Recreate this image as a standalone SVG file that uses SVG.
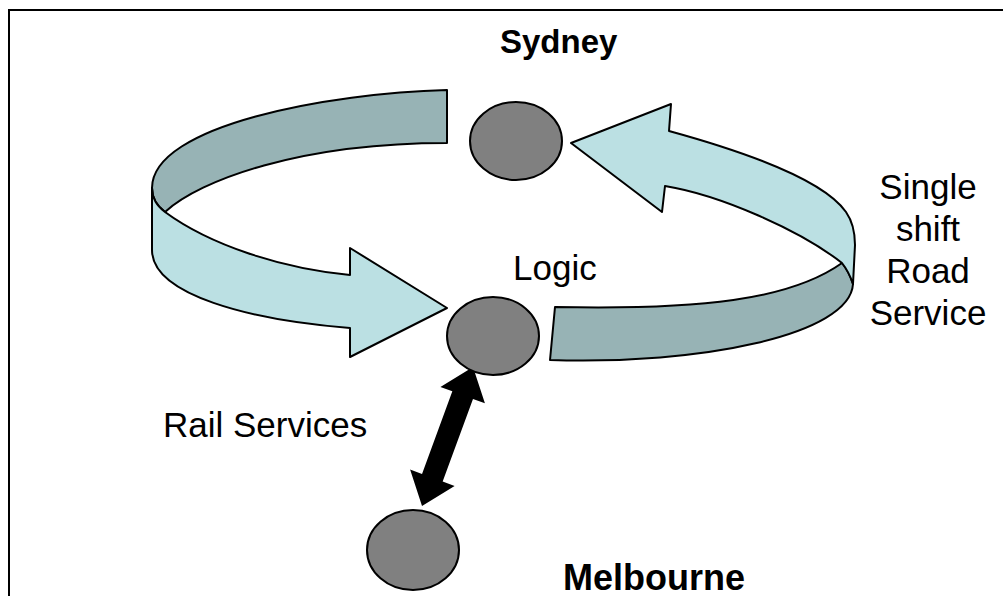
<svg xmlns="http://www.w3.org/2000/svg" width="1003" height="596" viewBox="0 0 1003 596">
<style>
.node{fill:#808080;stroke:#000;stroke-width:2}
.front{fill:#BBE0E3;stroke:#000;stroke-width:2;stroke-linejoin:round}
.back{fill:#97B3B5;stroke:#000;stroke-width:2;stroke-linejoin:round}
.t{font-family:"Liberation Sans",Arial,sans-serif;font-size:35px;fill:#000}
.b{font-weight:bold}
</style>
<rect x="0" y="0" width="1003" height="596" fill="#fff"/>
<rect x="9" y="10" width="1010" height="610" fill="none" stroke="#000" stroke-width="2"/>
<g id="connectors">
  <g id="road-arrow-left">
    <path class="back" d="M447,90 C330,93 152,125 152,188 C152,198 157,206 165,212 C200,180 300,143 447,143 Z"/>
    <path class="front" d="M152,188 C152,198 157,206 165,212 C210,245 280,268 350,275 L350,248 L447,308 L350,357 L350,328 C250,320 152,295 152,250 Z"/>
  </g>
  <g id="road-arrow-right">
    <path class="back" d="M555,307 C700,310 790,300 842,263 C846,268 850,275 853,284 C850,335 700,365 550,360 Z"/>
    <path class="front" d="M571,143 L671,104 L669,131 C720,145 820,175 846,212 C853,222 855,232 855,245 L853,284 C850,275 846,268 842,263 C800,230 720,195 665,186 L662,212 Z"/>
    <text class="t" text-anchor="middle"><tspan x="928" y="199">Single</tspan><tspan x="928" y="241">shift</tspan><tspan x="928" y="283">Road</tspan><tspan x="928" y="325">Service</tspan></text>
  </g>
  <g id="rail-arrow">
    <polygon fill="#000" transform="translate(473,367) rotate(110.15)" points="0,0 30,-23.7 30,-11 118,-11 118,-23.7 148,0 118,23.7 118,11 30,11 30,23.7"/>
    <text class="t" x="163" y="437">Rail Services</text>
  </g>
</g>
<g id="sydney">
  <ellipse class="node" cx="516" cy="141" rx="46" ry="39"/>
  <text class="t b" x="500" y="53" style="font-size:33px">Sydney</text>
</g>
<g id="logic">
  <ellipse class="node" cx="493" cy="336" rx="46" ry="39"/>
  <text class="t" x="513" y="280">Logic</text>
</g>
<g id="melbourne">
  <ellipse class="node" cx="413" cy="550" rx="46" ry="40"/>
  <text class="t b" x="563" y="590" style="font-size:36px">Melbourne</text>
</g>
</svg>
